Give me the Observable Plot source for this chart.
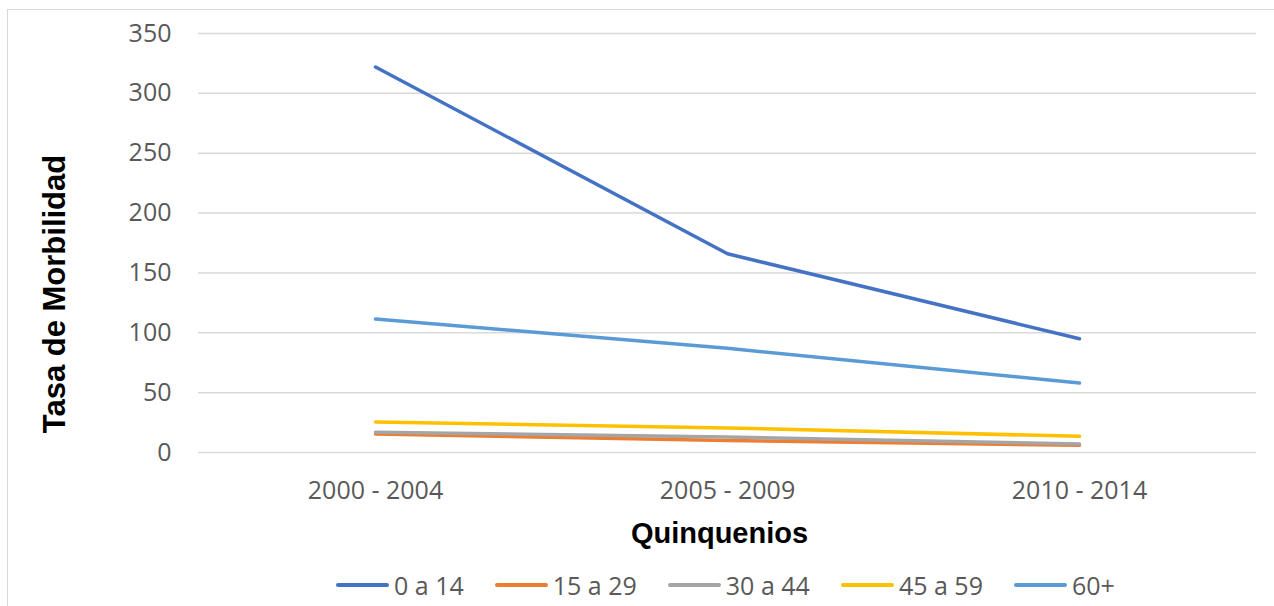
<!DOCTYPE html>
<html>
<head>
<meta charset="utf-8">
<script src="https://cdn.jsdelivr.net/npm/d3@7"></script>
<script src="https://cdn.jsdelivr.net/npm/@observablehq/plot@0.6"></script>
<style>
  html, body { margin: 0; padding: 0; background: #fff; overflow: hidden; width: 1274px; height: 606px; }
  #frame { position: absolute; left: 7px; top: 9px; width: 1320px; height: 700px; border: 1.5px solid #d9d9d9; box-sizing: border-box; }
  #chart { position: absolute; left: 0; top: 0; }
  #legend { position: absolute; left: 336px; top: 560px; height: 50px; display: flex; align-items: center; font-family: "Open Sans", sans-serif; font-size: 25px; color: #595959; }
  .item { display: flex; align-items: center; margin-right: 31px; }
  .sw { width: 53px; height: 3.5px; border-radius: 2px; margin-right: 5px; }
</style>
</head>
<body>
<div id="frame"></div>
<div id="chart"></div>
<div id="legend"></div>
<script>
const categories = ["2000 - 2004", "2005 - 2009", "2010 - 2014"];
const seriesNames = ["0 a 14", "15 a 29", "30 a 44", "45 a 59", "60+"];
const seriesColors = ["#4472C4", "#ED7D31", "#A5A5A5", "#FFC000", "#5B9BD5"];
const s0a14 = [322, 166, 95];
const s15a29 = [15.5, 10, 6];
const s30a44 = [17, 13, 7];
const s45a59 = [25.5, 20.5, 13.5];
const s60plus = [111.5, 87, 58];
const yTicks = [0, 50, 100, 150, 200, 250, 300, 350];

const seriesValues = [s0a14, s15a29, s30a44, s45a59, s60plus];
const data = [];
seriesNames.forEach((name, i) => {
  categories.forEach((c, j) => data.push({group: name, period: c, value: seriesValues[i][j]}));
});

const tickFont = "'Open Sans', sans-serif";
const titleFont = "'Liberation Sans', Arial, sans-serif";

const chart = Plot.plot({
  width: 1274,
  height: 560,
  marginTop: 33,
  marginBottom: 108,
  marginLeft: 198,
  marginRight: 18,
  style: {background: "transparent", overflow: "visible"},
  x: {type: "point", domain: categories, padding: 0.5, axis: null},
  y: {domain: [0, 350], axis: null},
  color: {domain: seriesNames, range: seriesColors},
  marks: [
    Plot.ruleY(yTicks, {y: d => d, stroke: "#d9d9d9", strokeWidth: 1.5}),
    Plot.text(yTicks, {y: d => d, frameAnchor: "left", dx: -27, textAnchor: "end", text: d => String(d), fontSize: 25, fontFamily: tickFont, fill: "#595959"}),
    Plot.text(categories, {x: d => d, frameAnchor: "bottom", dy: 38, lineAnchor: "middle", text: d => d, fontSize: 25, fontFamily: tickFont, fill: "#595959"}),
    Plot.line(data, {x: "period", y: "value", z: "group", stroke: "group", strokeWidth: 3.5, strokeLinecap: "round", strokeLinejoin: "round"}),
    Plot.text(["Quinquenios"], {frameAnchor: "bottom", dy: 81, dx: -8, textAnchor: "middle", lineAnchor: "middle", text: d => d, fontSize: 29, fontWeight: "bold", fontFamily: titleFont, fill: "#000"}),
    Plot.text(["Tasa de Morbilidad"], {frameAnchor: "left", dx: -143, dy: 51, rotate: -90, textAnchor: "middle", lineAnchor: "middle", text: d => d, fontSize: 31, fontWeight: "bold", fontFamily: titleFont, fill: "#000"})
  ]
});
document.getElementById("chart").appendChild(chart);

const legend = document.getElementById("legend");
seriesNames.forEach((name, i) => {
  const item = document.createElement("div");
  item.className = "item";
  const sw = document.createElement("div");
  sw.className = "sw";
  sw.style.background = seriesColors[i];
  const label = document.createElement("span");
  label.textContent = name;
  item.appendChild(sw);
  item.appendChild(label);
  legend.appendChild(item);
});
</script>
</body>
</html>
